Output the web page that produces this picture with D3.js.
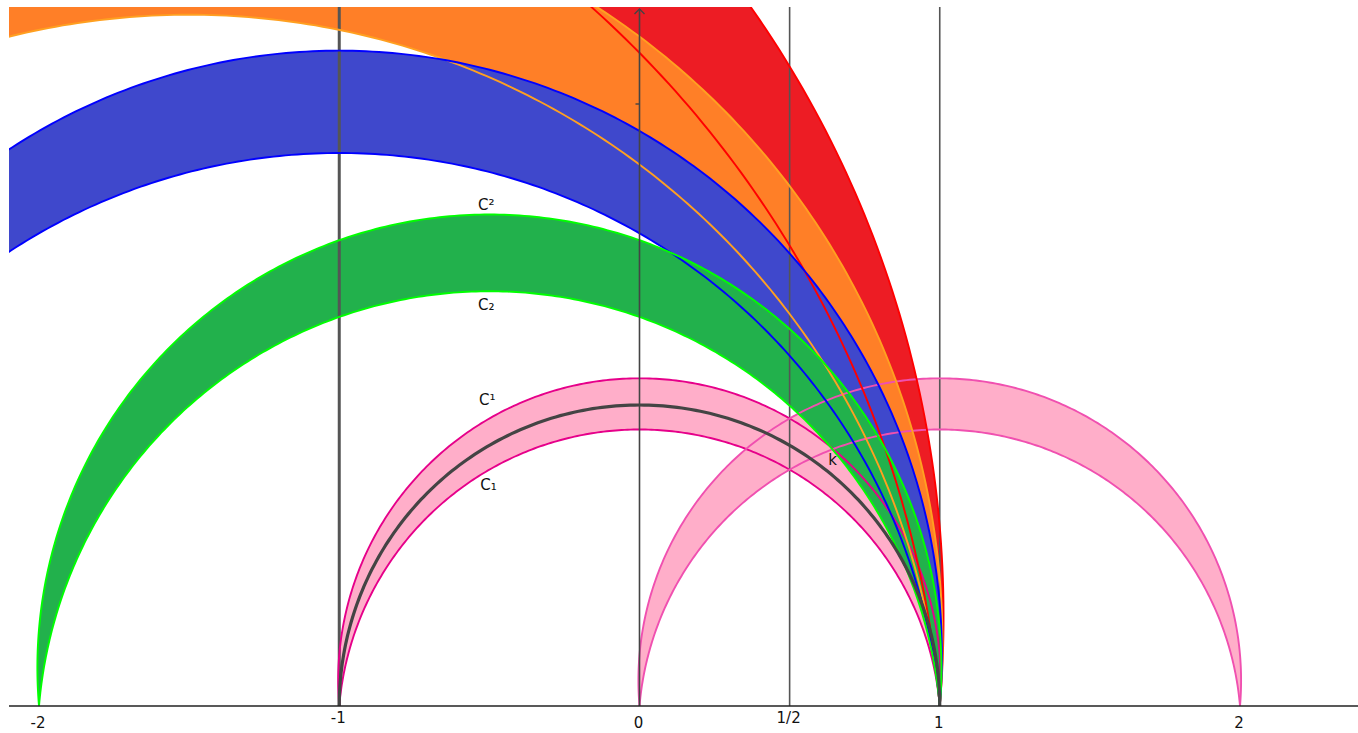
<!DOCTYPE html>
<html>
<head>
<meta charset="utf-8">
<script src="https://cdn.jsdelivr.net/npm/d3@7"></script>
<style>
  body { margin: 0; background: #fff; }
  svg { display: block; }
  text { font-family: "DejaVu Sans", sans-serif; fill: #111; }
</style>
</head>
<body>
<div id="chart"></div>
<script>
// geodesic half-circles (center on the real axis, radius)
const luneNames   = ["C1", "C1'", "red", "orange", "blue", "C2"];
const luneCenters = [0, 1, -2.5, -1.5, -1, -0.5];
const luneRadii   = [1, 1, 3.5, 2.5, 2, 1.5];
const bandK = 0.085;   // offset of the equidistant circles

const fillColors   = ["#ffaec9", "#ffaec9", "#ed1c24", "#ff7f27", "#3f48cc", "#22b14c"];
const strokeColors = ["#e6008a", "#f050b0", "#ff0000", "#ffa020", "#0000ff", "#00ff00"];

const xTicks = [-2, -1, 0, 0.5, 1, 2];
const xTickLabels = ["-2", "-1", "0", "1/2", "1", "2"];
const verticals = [-1, 0.5, 1];

const labelText = ["C\u00b2", "C\u2082", "C\u00b9", "C\u2081", "k"];
const labelX = [-0.51, -0.51, -0.507, -0.503, 0.643];
const labelY = [1.665, 1.332, 1.017, 0.734, 0.817];

const width = 1358, height = 733;

const x = d3.scaleLinear().domain([-2, 2]).range([39, 1240]);
const y = d3.scaleLinear().domain([0, 2]).range([706, 104]);

const svg = d3.select("#chart")
  .append("svg")
    .attr("width", width)
    .attr("height", height);

svg.append("clipPath").attr("id", "plot")
  .append("rect")
    .attr("x", 9).attr("y", 7)
    .attr("width", width - 9).attr("height", height - 7);

const line = d3.line().x(d => x(d[0])).y(d => y(d[1]));

// arc of circle (cx, cy, R) from angle a0 to a1
function arcPts(cx, cy, R, a0, a1, n) {
  const pts = [];
  for (let i = 0; i <= n; i++) {
    const t = a0 + (a1 - a0) * i / n;
    pts.push([cx + R * Math.cos(t), cy + R * Math.sin(t)]);
  }
  return pts;
}

function outerArc(m, r) {
  const a = Math.atan(bandK);
  return arcPts(m, bandK * r, r * Math.sqrt(1 + bandK * bandK), -a, Math.PI + a, 300);
}
function innerArc(m, r) {
  const a = Math.atan(bandK);
  return arcPts(m, -bandK * r, r * Math.sqrt(1 + bandK * bandK), Math.PI - a, a, 300);
}

const g = svg.append("g").attr("clip-path", "url(#plot)");

const lunes = luneNames.map((name, i) => ({ name, m: luneCenters[i], r: luneRadii[i], i }));

// fills
g.selectAll("path.fill")
  .data(lunes)
  .enter()
  .append("path")
    .attr("class", "fill")
    .attr("d", d => line(outerArc(d.m, d.r).concat(innerArc(d.m, d.r))) + "Z")
    .attr("fill", d => fillColors[d.i]);

// vertical lines
g.selectAll("line.vert")
  .data(verticals)
  .enter()
  .append("line")
    .attr("x1", d => x(d)).attr("x2", d => x(d))
    .attr("y1", 7).attr("y2", y(0))
    .attr("stroke", "#555")
    .attr("stroke-width", d => d === -1 ? 3 : 1.6);

// boundary circles
lunes.forEach(d => {
  [outerArc(d.m, d.r), innerArc(d.m, d.r)].forEach(p => {
    g.append("path")
      .attr("d", line(p))
      .attr("fill", "none")
      .attr("stroke", strokeColors[d.i])
      .attr("stroke-width", 1.9);
  });
});

// geodesic through -1 and 1
g.append("path")
  .attr("d", line(arcPts(0, 0, 1, 0, Math.PI, 200)))
  .attr("fill", "none")
  .attr("stroke", "#444")
  .attr("stroke-width", 3.2);

// y axis with arrow
svg.append("line")
  .attr("x1", x(0)).attr("x2", x(0))
  .attr("y1", y(0)).attr("y2", 9)
  .attr("stroke", "#444").attr("stroke-width", 1.6);
svg.append("path")
  .attr("d", `M${x(0) - 5},14 L${x(0)},9 L${x(0) + 5},14`)
  .attr("fill", "none").attr("stroke", "#444").attr("stroke-width", 1.4);
svg.append("line")
  .attr("x1", x(0) - 4).attr("x2", x(0))
  .attr("y1", y(2)).attr("y2", y(2))
  .attr("stroke", "#444").attr("stroke-width", 1.4);

// x axis
svg.append("line")
  .attr("x1", 9).attr("x2", width)
  .attr("y1", y(0)).attr("y2", y(0))
  .attr("stroke", "#222").attr("stroke-width", 1.6);

svg.selectAll("text.tick")
  .data(xTicks)
  .enter()
  .append("text")
    .attr("class", "tick")
    .attr("x", d => x(d) - 1)
    .attr("y", d => (d === -1 || d === 0.5) ? 723 : 728)
    .attr("text-anchor", "middle")
    .attr("font-size", 15)
    .text((d, i) => xTickLabels[i]);

// curve labels
svg.selectAll("text.lab")
  .data(labelText)
  .enter()
  .append("text")
    .attr("class", "lab")
    .attr("x", (d, i) => x(labelX[i]))
    .attr("y", (d, i) => y(labelY[i]))
    .attr("text-anchor", "middle")
    .attr("dominant-baseline", "central")
    .attr("font-size", 15)
    .text(d => d);
</script>
</body>
</html>
